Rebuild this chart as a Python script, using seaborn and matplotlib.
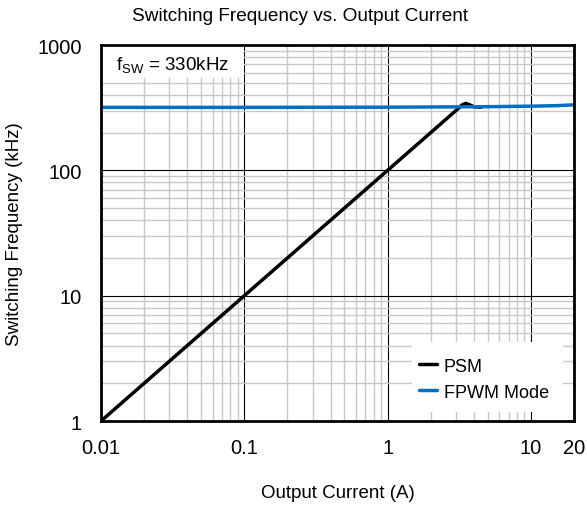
import matplotlib
matplotlib.use("Agg")
import matplotlib.pyplot as plt
import seaborn as sns
import pandas as pd
from matplotlib.ticker import FixedLocator, LogLocator, NullFormatter
from matplotlib.lines import Line2D
from matplotlib.patches import Rectangle

# Output current (A) and switching frequency (kHz)
psm_current = [0.01, 0.1, 1.0, 2.0, 3.0, 3.3, 3.5, 3.7, 4.0, 4.5]
psm_freq = [1.0, 10.0, 100.0, 200.0, 300.0, 332.0, 342.0, 335.0, 322.0, 319.0]

fpwm_current = [0.01, 0.1, 1.0, 3.0, 5.0, 10.0, 15.0, 20.0]
fpwm_freq = [318.0, 318.0, 319.0, 321.0, 322.0, 325.0, 328.0, 333.0]

x_ticks = [0.01, 0.1, 1, 10, 20]
x_tick_labels = ["0.01", "0.1", "1", "10", "20"]
y_ticks = [1, 10, 100, 1000]
y_tick_labels = ["1", "10", "100", "1000"]

BLUE = "#0070C0"

sns.set_theme(style="white")
plt.rcParams["font.family"] = ["Liberation Sans", "DejaVu Sans"]
plt.rcParams["text.color"] = "black"
plt.rcParams["axes.labelcolor"] = "black"

df = pd.concat([
    pd.DataFrame({"Current": psm_current, "Freq": psm_freq, "Mode": "PSM"}),
    pd.DataFrame({"Current": fpwm_current, "Freq": fpwm_freq, "Mode": "FPWM Mode"}),
])

fig = plt.figure(figsize=(5.87, 5.10), dpi=100)
ax = fig.add_axes([0.1721, 0.1725, 0.8058, 0.7373])

sns.lineplot(data=df, x="Current", y="Freq", hue="Mode", sort=False,
             palette={"PSM": "black", "FPWM Mode": BLUE},
             hue_order=["PSM", "FPWM Mode"], linewidth=2.5, ax=ax, legend=False)
# keep the FPWM trace above the PSM trace
for line in ax.get_lines():
    if line.get_color().lower() == BLUE.lower():
        line.set_zorder(5)
    else:
        line.set_zorder(4)

ax.set_xscale("log")
ax.set_yscale("log")
ax.set_xlim(0.01, 20)
ax.set_ylim(1, 1000)

ax.xaxis.set_major_locator(FixedLocator(x_ticks))
ax.set_xticklabels(x_tick_labels)
ax.xaxis.set_minor_locator(LogLocator(base=10, subs=range(2, 10), numticks=20))
ax.xaxis.set_minor_formatter(NullFormatter())
ax.yaxis.set_major_locator(FixedLocator(y_ticks))
ax.set_yticklabels(y_tick_labels)
ax.yaxis.set_minor_locator(LogLocator(base=10, subs=range(2, 10), numticks=20))
ax.yaxis.set_minor_formatter(NullFormatter())

ax.grid(which="minor", color="#c8c8c8", linewidth=1.0)
ax.grid(which="major", color="black", linewidth=0.8)
ax.set_axisbelow(True)
ax.tick_params(which="both", length=0, labelsize=14.5, colors="black")
ax.tick_params(axis="x", pad=12)
ax.tick_params(axis="y", pad=14)

for s in ax.spines.values():
    s.set_color("black")
    s.set_linewidth(2)
    s.set_zorder(6)

ax.set_title("Switching Frequency vs. Output Current", fontsize=13.7, pad=18,
             x=0.42, color="black")
ax.set_xlabel("Output Current (A)", fontsize=13.5, color="black")
ax.set_ylabel("Switching Frequency (kHz)", fontsize=13.5, color="black")
ax.xaxis.set_label_coords(0.5, -0.168)
ax.yaxis.set_label_coords(-0.165, 0.5)

# annotation box in the upper-left corner
ax.add_patch(Rectangle((0.0, 0.912), 0.3023, 0.088, transform=ax.transAxes,
                       facecolor="white", edgecolor="none", zorder=1.5))
ax.text(0.032, 0.946, r"f$_{\mathregular{SW}}$ = 330kHz", fontsize=13.5,
        va="center", ha="left", transform=ax.transAxes, zorder=6, color="black")

# legend on a white panel in the lower-right corner
ax.add_patch(Rectangle((0.6575, 0.024), 0.3192, 0.186, transform=ax.transAxes,
                       facecolor="white", edgecolor="none", zorder=1.5))
handles = [Line2D([], [], color="black", linewidth=2.5),
           Line2D([], [], color=BLUE, linewidth=2.5)]
leg = ax.legend(handles, ["PSM", "FPWM Mode"], loc="center",
                bbox_to_anchor=(0.8097, 0.1117), fontsize=13,
                frameon=False, handlelength=1.0, handletextpad=0.35,
                labelspacing=0.5, borderpad=0.0, labelcolor="black")

fig.savefig("out.png", dpi=100)
